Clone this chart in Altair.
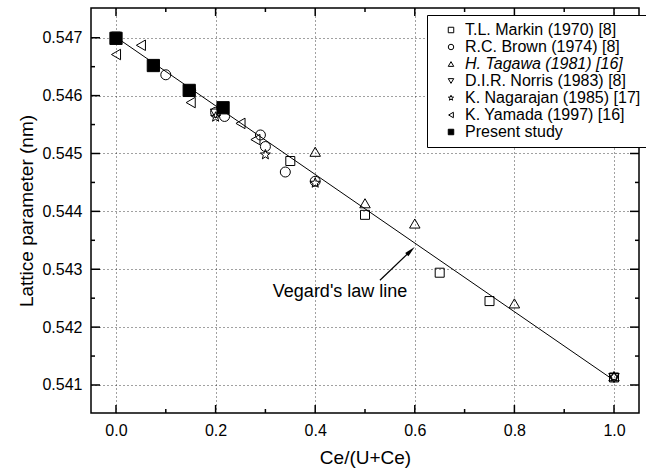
import altair as alt
import pandas as pd

# ---- data ----
series_names = [
    "T.L. Markin (1970) [8]",
    "R.C. Brown (1974) [8]",
    "H. Tagawa (1981) [16]",
    "D.I.R. Norris (1983) [8]",
    "K. Nagarajan (1985) [17]",
    "K. Yamada (1997) [16]",
    "Present study",
]
marker_sizes = [81, 100, 110, 110, 110, 110, 150]

markin_x = [0.0, 0.35, 0.5, 0.65, 0.75, 1.0]
markin_y = [0.54702, 0.54487, 0.54394, 0.54294, 0.54245, 0.54113]

brown_x = [0.1, 0.15, 0.2, 0.218, 0.29, 0.30, 0.34, 0.4]
brown_y = [0.54636, 0.54609, 0.54571, 0.54564, 0.54532, 0.54512, 0.54468, 0.54452]

tagawa_x = [0.4, 0.5, 0.6, 0.8, 1.0]
tagawa_y = [0.54503, 0.54414, 0.54379, 0.54241, 0.54115]

norris_x = [0.2, 1.0]
norris_y = [0.54569, 0.54112]

nagarajan_x = [0.2, 0.3, 0.4, 1.0]
nagarajan_y = [0.54563, 0.54498, 0.54449, 0.54114]

yamada_x = [0.0, 0.05, 0.15, 0.25, 0.28]
yamada_y = [0.54671, 0.54687, 0.54588, 0.54552, 0.54524]

present_x = [0.0, 0.075, 0.147, 0.215]
present_y = [0.54699, 0.54652, 0.54609, 0.54579]

vegard_x = [0.0, 1.0]
vegard_y = [0.54701, 0.54108]

label_text = ["Vegard's law line"]
label_x = [0.45]
label_y = [0.54261]

arrow_tail_x = [0.530]
arrow_tail_y = [0.54281]
arrow_head_x = [0.5918]
arrow_head_y = [0.543318]

x_major = [0.0, 0.2, 0.4, 0.6, 0.8, 1.0]
x_minor = [0.1, 0.3, 0.5, 0.7, 0.9]
y_major = [0.541, 0.542, 0.543, 0.544, 0.545, 0.546, 0.547]
y_minor = [0.5415, 0.5425, 0.5435, 0.5445, 0.5455, 0.5465]

# ---- tables ----
all_x = [markin_x, brown_x, tagawa_x, norris_x, nagarajan_x, yamada_x, present_x]
all_y = [markin_y, brown_y, tagawa_y, norris_y, nagarajan_y, yamada_y, present_y]
rows = []
for name, sz, xs, ys in zip(series_names, marker_sizes, all_x, all_y):
    for a, b in zip(xs, ys):
        rows.append({"x": a, "y": b, "series": name, "sz": sz})
pts = pd.DataFrame(rows)

STAR = ("M0,-1L0.247,-0.34L0.951,-0.309L0.399,0.13L0.588,0.809L0,0.42"
        "L-0.588,0.809L-0.399,0.13L-0.951,-0.309L-0.247,-0.34Z")
ARROW = "M0,-1L0.42,1L-0.42,1Z"

W, H = 548, 405
xscale = alt.Scale(domain=[-0.0502, 1.0502], nice=False, zero=False)
yscale = alt.Scale(domain=[0.540516, 0.547514], nice=False, zero=False)
FONT = "Liberation Sans"

legend = alt.Legend(
    title=None, orient="none", legendX=336, legendY=7,
    padding=7, symbolOffset=9, labelOffset=6, rowPadding=1,
    labelFontSize=16, labelFont=FONT, labelColor="black", labelLimit=400,
    labelFontStyle=alt.ExprRef(expr="indexof(datum.label, 'Tagawa') >= 0 ? 'italic' : 'normal'"),
    symbolSize=30, symbolStrokeColor="black", symbolStrokeWidth=1,
    strokeColor="black", fillColor="white",
)

points = alt.Chart(pts).mark_point(strokeWidth=1, opacity=1).encode(
    x=alt.X("x:Q", scale=xscale, title="Ce/(U+Ce)",
            axis=alt.Axis(values=x_major, format=".1f", grid=True,
                          labelPadding=9, titlePadding=10)),
    y=alt.Y("y:Q", scale=yscale, title="Lattice parameter (nm)",
            axis=alt.Axis(values=y_major, format=".3f", grid=True,
                          labelPadding=9, titlePadding=5)),
    shape=alt.Shape("series:N", scale=alt.Scale(
        domain=series_names,
        range=["square", "circle", "triangle-up", "triangle-down", STAR,
               "triangle-left", "square"]), legend=legend),
    fill=alt.Fill("series:N", scale=alt.Scale(
        domain=series_names,
        range=["transparent"] * 6 + ["black"]), legend=legend),
    stroke=alt.Stroke("series:N", scale=alt.Scale(
        domain=series_names, range=["black"] * 7), legend=legend),
    size=alt.Size("sz:Q", scale=None, legend=None),
)

line = alt.Chart(pd.DataFrame({"x": vegard_x, "y": vegard_y})).mark_line(
    color="black", strokeWidth=1).encode(x="x:Q", y="y:Q")

text = alt.Chart(pd.DataFrame({"x": label_x, "y": label_y, "t": label_text})).mark_text(
    font=FONT, fontSize=18, color="black", align="center", baseline="middle"
).encode(x="x:Q", y="y:Q", text="t:N")

arrow_df = pd.DataFrame({"x": arrow_tail_x, "y": arrow_tail_y,
                         "x2": arrow_head_x, "y2": arrow_head_y})
arrow_line = alt.Chart(arrow_df).mark_rule(color="black", strokeWidth=1.2).encode(
    x="x:Q", y="y:Q", x2="x2:Q", y2="y2:Q")
arrow_head = alt.Chart(pd.DataFrame({"x": arrow_head_x, "y": arrow_head_y})).mark_point(
    shape=ARROW, size=120, filled=True, color="black", opacity=1, angle=46
).encode(x="x:Q", y="y:Q")

xmaj = pd.DataFrame({"x": x_major})
xmin = pd.DataFrame({"x": x_minor})
ymaj = pd.DataFrame({"y": y_major})
ymin = pd.DataFrame({"y": y_minor})
tk = dict(color="black", strokeWidth=1.5)
ticks = [
    alt.Chart(xmaj).mark_rule(**tk).encode(x="x:Q", y=alt.value(H), y2=alt.value(H - 8)),
    alt.Chart(xmaj).mark_rule(**tk).encode(x="x:Q", y=alt.value(0), y2=alt.value(8)),
    alt.Chart(xmin).mark_rule(**tk).encode(x="x:Q", y=alt.value(H), y2=alt.value(H - 4)),
    alt.Chart(xmin).mark_rule(**tk).encode(x="x:Q", y=alt.value(0), y2=alt.value(4)),
    alt.Chart(ymaj).mark_rule(**tk).encode(y="y:Q", x=alt.value(0), x2=alt.value(9)),
    alt.Chart(ymaj).mark_rule(**tk).encode(y="y:Q", x=alt.value(W), x2=alt.value(W - 9)),
    alt.Chart(ymin).mark_rule(**tk).encode(y="y:Q", x=alt.value(0), x2=alt.value(4)),
    alt.Chart(ymin).mark_rule(**tk).encode(y="y:Q", x=alt.value(W), x2=alt.value(W - 4)),
]

chart = alt.layer(line, arrow_line, arrow_head, text, *ticks, points).properties(
    width=W, height=H,
    autosize=alt.AutoSizeParams(type="none"),
    padding={"left": 91, "top": 8, "right": 7, "bottom": 59},
).configure_view(
    stroke="black", strokeWidth=1.5
).configure_axis(
    labelFont=FONT, labelFontSize=16, labelColor="black",
    titleFont=FONT, titleFontSize=19, titleColor="black", titleFontWeight="normal",
    ticks=False, domain=False,
    gridColor="#222222", gridDash=[1, 3], gridWidth=1, gridOpacity=0.85,
)

chart.save("out.html", embed_options={"renderer": "svg", "actions": False})
